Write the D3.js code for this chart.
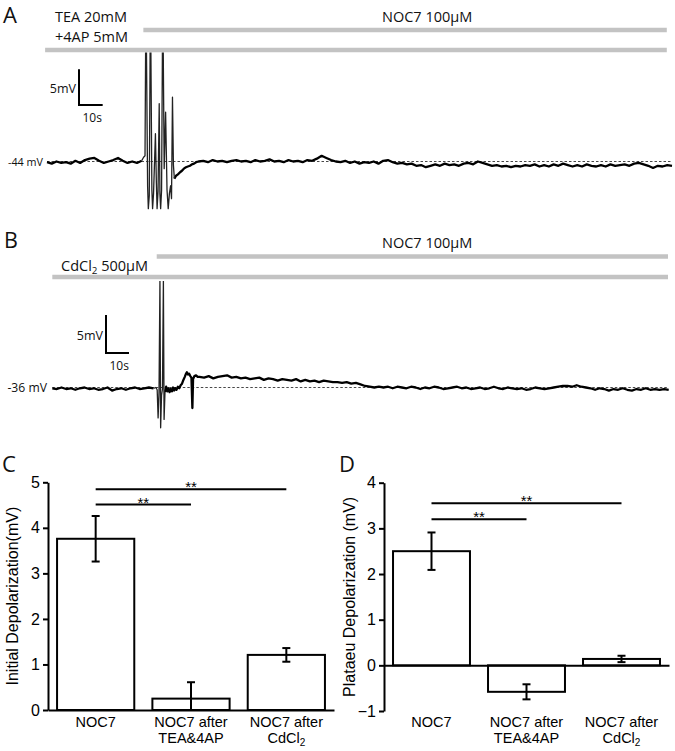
<!DOCTYPE html>
<html><head><meta charset="utf-8">
<script src="https://cdn.jsdelivr.net/npm/d3@7"></script>
<style>body{margin:0;background:#fff}svg{display:block}</style>
</head><body><svg id="fig" width="675" height="751"></svg>
<script>
// ---------------- DATA ----------------
// Panel A trace (mV). Sampling step for baseline segments: 2 s.
const stepSec = 2;
const aPreStart = 0;
const aPre = [-44.1,-44.3,-44.0,-44.2,-44.1,-44.3,-43.9,-44.2,-43.8,-43.6,-43.5,-43.9,-44.2,-44.0,-43.8,-43.5,-43.9,-44.2,-44.0,-44.2,-43.9];
const aBurst = [[40.0,-43.9],[40.8,-43.4],[41.4,-43.2],[41.8,-20],[42.5,-47.5],[42.8,-50.6],[43.2,-48.8],[43.7,-20],[44.3,-48.0],[44.6,-50.6],[45.0,-48.5],[45.8,-40.1],[46.2,-47.0],[46.5,-50.6],[46.9,-48.2],[47.4,-35.9],[47.7,-48.5],[48.0,-50.6],[48.4,-48.0],[48.9,-20],[49.5,-45.0],[50.1,-37.1],[50.7,-48.0],[51.2,-50.6],[51.7,-48.5],[52.2,-47.4],[52.6,-49.2],[53.0,-35.0],[53.4,-44.5],[53.8,-46.4]];
const aRecovery = [[53.8,-46.4],[54.5,-46.0],[55.3,-45.8],[56.2,-45.5],[57.0,-45.3],[57.8,-45.0],[58.7,-44.8],[59.5,-44.7],[60.4,-44.6],[61.2,-44.4],[62.1,-44.3],[63.0,-44.1]];
const aPostStart = 64;
const aPost = [
 -44.0,-43.9,-44.1,-43.8,-44.0,-43.9,-44.1,-43.9,-43.8,-44.0,
 -43.9,-44.1,-43.8,-44.0,-43.9,-43.7,-44.0,-43.9,-44.1,-43.8,
 -44.0,-43.9,-44.1,-43.8,-43.9,-43.6,-43.2,-43.5,-43.8,-44.0,
 -44.1,-43.9,-44.2,-44.0,-44.3,-44.1,-44.2,-44.0,-44.3,-43.9,
 -43.8,-44.1,-44.3,-44.2,-44.4,-44.3,-44.6,-44.5,-44.8,-44.6,
 -44.4,-44.6,-44.3,-44.5,-44.4,-44.6,-44.3,-44.2,-44.4,-44.0,
 -44.2,-44.4,-44.6,-44.5,-44.7,-44.6,-44.8,-44.6,-44.7,-44.5,
 -44.6,-44.4,-44.7,-44.5,-44.7,-44.4,-44.6,-44.3,-44.5,-44.7,
 -44.5,-44.7,-44.4,-44.6,-44.7,-44.5,-44.7,-44.4,-44.6,-44.5,
 -44.4,-44.6,-44.3,-44.2,-44.4,-44.6,-44.9,-44.6,-44.7,-44.5,
 -44.6];

// Panel B trace (mV)
const bPreStart = 0;
const bPre = [-36.1,-36.2,-36.0,-36.2,-36.1,-36.3,-36.1,-36.0,-36.2,-36.1,-36.3,-36.2,-36.0,-36.4,-36.2,-36.1,-36.3,-36.1,-36.0,-36.2,-36.1,-36.0,-36.1];
const bBurst = [[45.0,-36.0],[45.6,-36.3],[46.0,-40.0],[46.4,-36.6],[46.8,-22],[47.1,-41.3],[47.5,-37.0],[47.9,-36.2],[48.3,-22],[48.6,-40.2],[49.0,-36.6]];
const bRecovery = [[49.0,-36.6],[49.5,-35.9],[50.0,-36.5],[50.5,-36.1],[51.0,-36.6],[51.5,-36.2],[52.0,-36.5],[52.5,-36.0],[53.0,-36.4],[53.5,-36.1],[54.0,-36.3],[54.6,-35.9],[55.2,-36.1],[55.8,-35.7],[56.4,-35.5],[57.0,-35.0],[57.6,-34.6],[58.1,-34.2],[58.5,-34.0],[59.0,-34.3],[59.5,-34.2],[60.0,-34.5],[60.5,-34.7],[60.9,-38.7],[61.2,-34.9],[61.8,-34.5],[62.5,-34.4],[63.2,-34.6]];
const bPostStart = 64;
const bPost = [
 -34.6,-34.7,-34.5,-34.8,-34.6,-34.5,-34.4,-34.7,-34.6,-34.8,
 -34.7,-34.9,-34.8,-34.7,-35.0,-34.8,-34.9,-35.1,-34.9,-35.0,
 -35.1,-34.9,-35.2,-35.0,-35.2,-35.1,-35.3,-35.1,-35.2,-35.3,
 -35.3,-35.4,-35.3,-35.5,-35.4,-35.6,-35.8,-35.9,-36.0,-35.9,
 -36.0,-35.9,-36.1,-35.9,-36.0,-36.1,-35.9,-36.0,-36.2,-36.0,
 -36.1,-35.9,-36.0,-36.2,-36.1,-36.0,-35.9,-36.1,-36.0,-36.2,
 -36.1,-36.0,-36.2,-36.1,-35.9,-36.1,-36.2,-36.0,-36.1,-36.2,
 -36.1,-36.3,-36.2,-36.0,-36.1,-36.2,-36.1,-36.0,-35.9,-35.8,
 -35.8,-35.9,-35.7,-35.9,-36.0,-36.1,-36.3,-36.1,-36.2,-36.4,
 -36.2,-36.3,-36.1,-36.3,-36.4,-36.2,-36.3,-36.1,-36.3,-36.2,
 -36.3,-36.2,-36.3];

// Drug application bars (seconds)
const drugsA = [{label:"NOC7 100µM", start:40.7, end:261.8, row:0},{label:"TEA 20mM|+4AP 5mM", start:-0.8, end:261.8, row:1}];
const drugsB = [{label:"NOC7 100µM", start:45.4, end:267.7, row:0},{label:"CdCl2 500µM", start:0, end:267.7, row:1}];
const restA = -44, restB = -36;

// Bar charts
const categories = ["NOC7", "NOC7 after TEA&4AP", "NOC7 after CdCl2"];
const initialMean = [3.76, 0.25, 1.21];
const initialSem  = [0.50, 0.36, 0.15];
const plateauMean = [2.50, -0.58, 0.14];
const plateauSem  = [0.41, 0.165, 0.07];
const ticksC = [0,1,2,3,4,5];
const ticksD = [-1,0,1,2,3,4];
const sigC = [{from:0,to:2,y:4.85,label:"**"},{from:0,to:1,y:4.51,label:"**"}];
const sigD = [{from:0,to:2,y:3.55,label:"**"},{from:0,to:1,y:3.20,label:"**"}];

// ---------------- DRAW ----------------
const svg = d3.select("#fig");
const OS = "'Open Sans', 'Noto Sans', sans-serif";
const AR = "'Liberation Sans', Arial, sans-serif";

function uniform(vals, start){ return vals.map((v,i)=>[start + i*stepSec, v]); }

function tracePanel(o){
  const g = svg.append("g");
  const x = d3.scaleLinear().domain(o.tDomain).range(o.xRange);
  const y = d3.scaleLinear().domain([o.rest, o.rest+5]).range([o.restY, o.restY - o.pxPer5mV]);
  o.drugs.forEach(d=>{
    g.append("line").attr("x1", x(d.start)).attr("x2", x(d.end))
      .attr("y1", o.barY[d.row]).attr("y2", o.barY[d.row])
      .attr("stroke", "#c3c3c3").attr("stroke-width", 4.5);
  });
  o.labels.forEach(l=>{
    const t = g.append("text").attr("x", l.x).attr("y", l.y)
      .attr("font-family", OS).attr("font-size", l.size).attr("fill", "#111");
    if (l.sub) {
      t.append("tspan").text(l.text);
      t.append("tspan").text(l.sub).attr("font-size", l.size*0.68).attr("dy", 3);
      t.append("tspan").text(l.after).attr("dy", -3);
    } else t.text(l.text);
  });
  g.append("line").attr("x1", x(o.tDomain[0])).attr("x2", x(o.tDomain[1]))
    .attr("y1", y(o.rest)).attr("y2", y(o.rest))
    .attr("stroke", "#333").attr("stroke-width", 0.9).attr("stroke-dasharray", "2.5,2");
  const id = "clip" + o.name;
  svg.append("clipPath").attr("id", id).append("rect")
    .attr("x", 0).attr("y", o.clipTop).attr("width", 675).attr("height", 300);
  const line = d3.line().x(d=>x(d[0])).y(d=>y(d[1]));
  const pre = o.pre, post = o.post;
  // quiet segments: thick, fuzzy-looking
  [pre, o.recovery.concat(post)].forEach(seg=>{
    g.append("path").datum(seg).attr("d", line)
      .attr("fill", "none").attr("stroke", "#000").attr("stroke-width", 2.3)
      .attr("stroke-linejoin", "round");
  });
  // spike burst: thin lines
  const burst = [pre[pre.length-1]].concat(o.burst);
  g.append("path").datum(burst).attr("d", line).attr("clip-path", `url(#${id})`)
    .attr("fill", "none").attr("stroke", "#222").attr("stroke-width", 1.3)
    .attr("stroke-linejoin", "round");
  const sx = o.scaleCorner[0], sy = o.scaleCorner[1];
  const v5 = y(o.rest) - y(o.rest+5), h10 = x(10) - x(0);
  g.append("path").attr("d", `M${sx},${sy - v5}V${sy}H${sx + h10}`)
    .attr("fill", "none").attr("stroke", "#000").attr("stroke-width", 2);
  g.append("text").attr("x", sx - 3).attr("y", sy - v5*0.33).attr("text-anchor", "end")
    .attr("font-family", OS).attr("font-size", 12.5).attr("fill", "#111").text("5mV");
  g.append("text").attr("x", sx + 3.5).attr("y", sy + 16.5)
    .attr("font-family", OS).attr("font-size", 12).attr("fill", "#111").text("10s");
  g.append("text").attr("x", o.restLabelX).attr("y", y(o.rest) + 4.5).attr("text-anchor", "end")
    .attr("font-family", OS).attr("font-size", o.restLabelSize).attr("fill", "#111").text(o.rest + " mV");
}

tracePanel({
  name:"A", tDomain:[0,264], xRange:[47,672], rest:restA, restY:161.5, pxPer5mV:35.7,
  pre: uniform(aPre, aPreStart), burst: aBurst, recovery: aRecovery, post: uniform(aPost, aPostStart),
  drugs: drugsA, barY:[30, 50], clipTop:52.5,
  labels:[{text:"A", x:3, y:23, size:22},
          {text:"TEA 20mM", x:55, y:21.5, size:14.5},
          {text:"+4AP 5mM", x:55, y:41.5, size:14.5},
          {text:"NOC7 100µM", x:382, y:21.5, size:14.5}],
  scaleCorner:[79,105], restLabelX:43, restLabelSize:10.8
});
tracePanel({
  name:"B", tDomain:[0,268], xRange:[52.3,668.7], rest:restB, restY:387.5, pxPer5mV:38,
  pre: uniform(bPre, bPreStart), burst: bBurst, recovery: bRecovery, post: uniform(bPost, bPostStart),
  drugs: drugsB, barY:[256.5, 277], clipTop:281,
  labels:[{text:"B", x:4, y:248, size:21.5},
          {text:"CdCl", sub:"2", after:" 500µM", x:61, y:270.5, size:14.5},
          {text:"NOC7 100µM", x:382, y:248, size:14.5}],
  scaleCorner:[106,353], restLabelX:47, restLabelSize:12.2
});

function barPanel(o){
  const g = svg.append("g");
  const x = d3.scaleBand().domain(categories).range(o.xRange).paddingInner(0.19).paddingOuter(0.095);
  const y = d3.scaleLinear().domain(o.yDomain).range(o.yRange);
  g.selectAll("rect.bar").data(o.means).join("rect")
    .attr("x", (d,i)=>x(categories[i]))
    .attr("width", x.bandwidth())
    .attr("y", d=>Math.min(y(d), y(0)))
    .attr("height", d=>Math.abs(y(d)-y(0)))
    .attr("fill", "#fff").attr("stroke", "#000").attr("stroke-width", 2);
  o.means.forEach((m,i)=>{
    const cx = x(categories[i]) + x.bandwidth()/2;
    const hi = m + o.sem[i], lo = m - o.sem[i];
    const loC = o.yDomain[0] >= 0 ? Math.max(lo, 0) : lo;
    g.append("line").attr("x1", cx).attr("x2", cx).attr("y1", y(hi)).attr("y2", y(loC))
      .attr("stroke", "#000").attr("stroke-width", 2);
    g.append("line").attr("x1", cx-4).attr("x2", cx+4).attr("y1", y(hi)).attr("y2", y(hi))
      .attr("stroke", "#000").attr("stroke-width", 2);
    if (loC === lo)
      g.append("line").attr("x1", cx-4).attr("x2", cx+4).attr("y1", y(lo)).attr("y2", y(lo))
        .attr("stroke", "#000").attr("stroke-width", 2);
  });
  const xa = g.append("g").attr("transform", `translate(0,${y(0)})`)
    .call(d3.axisBottom(x).tickSize(0).tickSizeOuter(0).tickFormat(""));
  xa.select(".domain").attr("stroke", "#000").attr("stroke-width", 2);
  const ya = g.append("g").attr("transform", `translate(${o.xRange[0]},0)`)
    .call(d3.axisLeft(y).tickValues(o.ticks).tickFormat(d3.format("d")).tickSize(5).tickSizeOuter(0).tickPadding(3));
  ya.select(".domain").attr("stroke", "#000").attr("stroke-width", 2);
  ya.selectAll(".tick line").attr("stroke", "#000").attr("stroke-width", 2);
  ya.selectAll(".tick text").attr("font-family", AR).attr("font-size", 16).attr("fill", "#000");
  g.append("text").attr("transform", `translate(${o.yLabelX},${(o.yRange[0]+o.yRange[1])/2}) rotate(-90)`)
    .attr("text-anchor", "middle").attr("font-family", AR).attr("font-size", 16).attr("fill", "#000")
    .text(o.yLabel);
  categories.forEach((c,i)=>{
    const cx = x(c) + x.bandwidth()/2;
    const t = g.append("text").attr("x", cx).attr("y", 727).attr("text-anchor", "middle")
      .attr("font-family", AR).attr("font-size", 14.5).attr("fill", "#000");
    if (i === 0) t.text(c);
    else {
      t.text("NOC7 after");
      const rest = c.replace("NOC7 after ", "");
      const t2 = g.append("text").attr("x", cx).attr("y", 743).attr("text-anchor", "middle")
        .attr("font-family", AR).attr("font-size", 14.5).attr("fill", "#000");
      if (rest === "CdCl2") {
        t2.append("tspan").text("CdCl");
        t2.append("tspan").text("2").attr("font-size", 10).attr("dy", 2.5);
      } else t2.text(rest);
    }
  });
  o.sig.forEach(s=>{
    const x1 = x(categories[s.from]) + x.bandwidth()/2, x2 = x(categories[s.to]) + x.bandwidth()/2;
    g.append("line").attr("x1", x1).attr("x2", x2).attr("y1", y(s.y)).attr("y2", y(s.y))
      .attr("stroke", "#000").attr("stroke-width", 2);
    g.append("text").attr("x", (x1+x2)/2).attr("y", y(s.y) + 3).attr("text-anchor", "middle")
      .attr("font-family", AR).attr("font-size", 15).attr("fill", "#000").text(s.label);
  });
  g.append("text").attr("x", o.letterX).attr("y", 472).attr("font-family", OS)
    .attr("font-size", 22).attr("fill", "#111").text(o.letter);
}

barPanel({letter:"C", letterX:2, xRange:[48,334], yDomain:[0,5], yRange:[710,482.3],
  means:initialMean, sem:initialSem, ticks:ticksC, sig:sigC,
  yLabel:"Initial Depolarization(mV)", yLabelX:18});
barPanel({letter:"D", letterX:339, xRange:[384,669], yDomain:[-1,4], yRange:[711,482.7],
  means:plateauMean, sem:plateauSem, ticks:ticksD, sig:sigD,
  yLabel:"Plataeu Depolarization (mV)", yLabelX:355});
</script></body></html>
